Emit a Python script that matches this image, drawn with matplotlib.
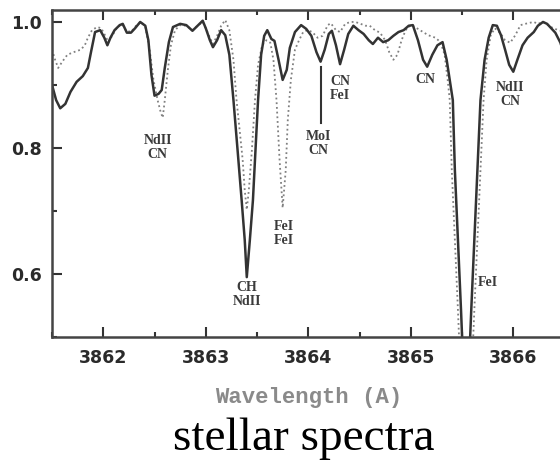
import numpy as np
import matplotlib
matplotlib.use("Agg")
import matplotlib.pyplot as plt
from matplotlib.ticker import MultipleLocator

# observed spectrum (solid)
lam_obs = [3861.50, 3861.54, 3861.58, 3861.63, 3861.68, 3861.74, 3861.80, 3861.85, 3861.88, 3861.92,
           3861.97, 3862.01, 3862.04, 3862.07, 3862.11, 3862.16, 3862.19, 3862.23, 3862.27, 3862.31,
           3862.36, 3862.41, 3862.44, 3862.47, 3862.50, 3862.54, 3862.57, 3862.60, 3862.64, 3862.68,
           3862.75, 3862.81, 3862.87, 3862.92, 3862.97, 3863.00, 3863.04, 3863.07, 3863.11, 3863.15,
           3863.19, 3863.23, 3863.27, 3863.31, 3863.35, 3863.38, 3863.40, 3863.43, 3863.46, 3863.48,
           3863.51, 3863.54, 3863.57, 3863.60, 3863.64, 3863.67, 3863.71, 3863.75, 3863.79, 3863.82,
           3863.87, 3863.93, 3863.98, 3864.03, 3864.08, 3864.12, 3864.16, 3864.20, 3864.23, 3864.27,
           3864.31, 3864.35, 3864.39, 3864.44, 3864.49, 3864.54, 3864.59, 3864.63, 3864.68, 3864.73,
           3864.78, 3864.83, 3864.88, 3864.93, 3864.98, 3865.02, 3865.07, 3865.12, 3865.16, 3865.21,
           3865.26, 3865.31, 3865.35, 3865.38, 3865.41, 3865.43, 3865.46, 3865.49, 3865.51, 3865.54,
           3865.57, 3865.59, 3865.62, 3865.65, 3865.68, 3865.72, 3865.76, 3865.80, 3865.84, 3865.88,
           3865.92, 3865.96, 3866.00, 3866.04, 3866.09, 3866.14, 3866.20, 3866.24, 3866.29, 3866.33,
           3866.37, 3866.41, 3866.46, 3866.51]
flux_obs = [0.900, 0.876, 0.863, 0.870, 0.889, 0.905, 0.914, 0.927, 0.952, 0.984,
            0.987, 0.975, 0.963, 0.975, 0.987, 0.995, 0.997, 0.983, 0.983, 0.990,
            1.000, 0.994, 0.971, 0.916, 0.883, 0.886, 0.892, 0.927, 0.968, 0.992,
            0.997, 0.995, 0.986, 0.994, 1.002, 0.990, 0.971, 0.960, 0.971, 0.987,
            0.979, 0.948, 0.876, 0.797, 0.717, 0.654, 0.595, 0.654, 0.717, 0.781,
            0.876, 0.948, 0.978, 0.987, 0.973, 0.970, 0.940, 0.908, 0.924, 0.959,
            0.984, 0.995, 0.989, 0.978, 0.952, 0.937, 0.956, 0.981, 0.986, 0.963,
            0.933, 0.956, 0.981, 0.994, 0.987, 0.981, 0.971, 0.965, 0.975, 0.968,
            0.971, 0.978, 0.984, 0.987, 0.994, 0.995, 0.971, 0.940, 0.929, 0.948,
            0.963, 0.968, 0.940, 0.908, 0.876, 0.765, 0.654, 0.543, 0.463, 0.352,
            0.463, 0.543, 0.654, 0.765, 0.876, 0.940, 0.975, 0.995, 0.994, 0.979,
            0.956, 0.932, 0.921, 0.940, 0.963, 0.975, 0.984, 0.994, 1.000, 0.997,
            0.990, 0.983, 0.967, 0.940]

# synthetic spectrum (dotted)
lam_syn = [3861.50, 3861.53, 3861.56, 3861.60, 3861.65, 3861.71, 3861.78, 3861.82, 3861.85, 3861.89,
           3861.94, 3861.98, 3862.02, 3862.05, 3862.09, 3862.13, 3862.18, 3862.22, 3862.27, 3862.32,
           3862.37, 3862.41, 3862.45, 3862.49, 3862.53, 3862.56, 3862.58, 3862.60, 3862.63, 3862.66,
           3862.70, 3862.75, 3862.81, 3862.87, 3862.92, 3862.97, 3863.00, 3863.04, 3863.07, 3863.11,
           3863.15, 3863.19, 3863.23, 3863.27, 3863.30, 3863.33, 3863.36, 3863.38, 3863.40, 3863.42,
           3863.45, 3863.48, 3863.51, 3863.55, 3863.59, 3863.63, 3863.66, 3863.69, 3863.72, 3863.75,
           3863.78, 3863.80, 3863.83, 3863.87, 3863.91, 3863.95, 3863.99, 3864.04, 3864.09, 3864.14,
           3864.19, 3864.22, 3864.27, 3864.31, 3864.36, 3864.41, 3864.46, 3864.51, 3864.56, 3864.60,
           3864.65, 3864.70, 3864.75, 3864.79, 3864.83, 3864.87, 3864.91, 3864.95, 3865.00, 3865.04,
           3865.09, 3865.17, 3865.24, 3865.29, 3865.33, 3865.36, 3865.38, 3865.40, 3865.43, 3865.46,
           3865.48, 3865.54, 3865.60, 3865.62, 3865.65, 3865.68, 3865.71, 3865.74, 3865.78, 3865.82,
           3865.87, 3865.92, 3865.97, 3866.02, 3866.07, 3866.14, 3866.20, 3866.24, 3866.29, 3866.34,
           3866.39, 3866.44, 3866.51]
flux_syn = [0.956, 0.940, 0.927, 0.937, 0.948, 0.952, 0.956, 0.963, 0.975, 0.987,
            0.992, 0.990, 0.978, 0.968, 0.979, 0.990, 0.997, 0.987, 0.984, 0.994,
            1.000, 0.992, 0.959, 0.908, 0.876, 0.857, 0.848, 0.876, 0.924, 0.963,
            0.987, 0.995, 0.994, 0.987, 0.994, 1.000, 0.990, 0.975, 0.965, 0.978,
            0.994, 1.003, 0.987, 0.940, 0.876, 0.829, 0.781, 0.733, 0.702, 0.733,
            0.797, 0.876, 0.932, 0.963, 0.971, 0.967, 0.940, 0.876, 0.781, 0.705,
            0.765, 0.844, 0.908, 0.956, 0.971, 0.984, 0.987, 0.984, 0.975, 0.978,
            0.995, 0.998, 0.987, 0.984, 0.997, 1.000, 1.000, 0.997, 0.994, 0.994,
            0.987, 0.983, 0.971, 0.952, 0.940, 0.948, 0.971, 0.987, 0.995, 0.992,
            0.987, 0.979, 0.975, 0.968, 0.948, 0.908, 0.876, 0.765, 0.654, 0.543,
            0.463, 0.337, 0.463, 0.543, 0.654, 0.765, 0.876, 0.940, 0.979, 0.990,
            0.983, 0.971, 0.967, 0.979, 0.995, 0.998, 1.000, 0.997, 1.000, 0.995,
            0.990, 0.987, 0.984]

# line identifications: text, wavelength, flux (centre of text block)
line_ids = ["NdII\nCN", "CH\nNdII", "FeI\nFeI", "MoI\nCN", "CN\nFeI", "CN", "NdII\nCN", "FeI"]
id_lam = [3862.53, 3863.40, 3863.76, 3864.10, 3864.31, 3865.14, 3865.97, 3865.75]
id_flux = [0.801, 0.567, 0.664, 0.807, 0.894, 0.908, 0.885, 0.587]

xticks = [3862, 3863, 3864, 3865, 3866]
yticks = [0.6, 0.8, 1.0]

fig = plt.figure(figsize=(5.6, 4.67), dpi=100)
ax = fig.add_axes([0.0929, 0.2784, 0.9152, 0.7002])

ax.plot(lam_syn, flux_syn, ls=(0, (1, 1.6)), color="#808080", lw=1.3)
ax.plot(lam_obs, flux_obs, color="#333333", lw=1.8)

ax.set_xlim(3861.5, 3866.5)
ax.set_ylim(0.5, 1.019)
ax.set_xticks(xticks)
ax.set_yticks(yticks)
ax.set_yticklabels([f"{v:.1f}" for v in yticks])
ax.xaxis.set_minor_locator(MultipleLocator(0.5))
ax.yaxis.set_minor_locator(MultipleLocator(0.1))
ax.tick_params(which="both", direction="in", top=True, right=False, color="#333333", width=1.5)
ax.tick_params(which="major", length=7)
ax.tick_params(which="minor", length=3.5)
ax.tick_params(axis="x", pad=9)
ax.tick_params(axis="y", pad=7)
for lab in ax.get_xticklabels() + ax.get_yticklabels():
    lab.set_fontsize(12.5)
    lab.set_fontweight("bold")
    lab.set_color("#2a2a2a")

for s in ["left", "bottom", "top"]:
    ax.spines[s].set_linewidth(1.8)
    ax.spines[s].set_color("#444444")
ax.spines["right"].set_visible(False)

for t, x, y in zip(line_ids, id_lam, id_flux):
    ax.text(x, y, t, ha="center", va="center", family="Liberation Serif", fontweight="bold",
            fontsize=10, linespacing=1.1, color="#3a3a3a")
ax.plot([3864.12, 3864.12], [0.929, 0.840], color="#333333", lw=1.5)

ax.set_xlabel("Wavelength (A)", family="Liberation Mono", fontweight="bold", fontsize=16,
              color="#8a8a8a", va="center")
ax.xaxis.set_label_coords(0.5, -0.1865)

fig.text(0.543, 0.0364, "stellar spectra", ha="center", va="baseline",
         family="Liberation Serif", fontsize=34)

fig.savefig("out.png", dpi=100)
